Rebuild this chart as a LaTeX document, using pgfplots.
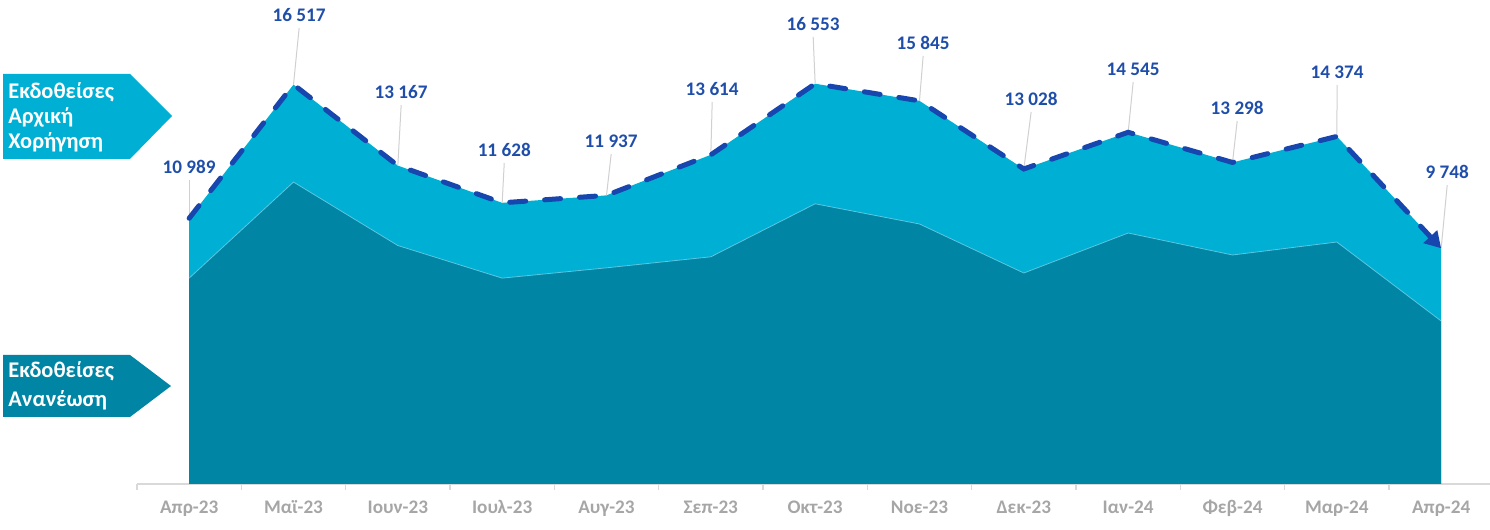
\documentclass[border=0pt]{standalone}
\usepackage{pgfplots}
\pgfplotsset{compat=1.18}
\usepackage{fontspec}
\setmainfont{Carlito}
\usetikzlibrary{arrows.meta}
\definecolor{lightA}{HTML}{00B0D4}
\definecolor{darkA}{HTML}{0085A4}
\definecolor{edgeA}{HTML}{5CC6E0}
\definecolor{labelblue}{HTML}{1F4EAA}
\definecolor{dashblue}{HTML}{1746AF}
\definecolor{tickgray}{HTML}{A6A6A6}
\definecolor{axisgray}{HTML}{D9D9D9}
\definecolor{leadgray}{HTML}{D0D0D0}
\begin{document}
\begin{tikzpicture}
\useasboundingbox (0,0) rectangle (745pt,265pt);
% left labels
\fill[lightA] (1.5pt,228pt) -- (65pt,228pt) -- (86pt,207pt) -- (65pt,185.5pt) -- (1.5pt,185.5pt) -- cycle;
\node[anchor=west, align=left, inner sep=0pt, text=white, font=\bfseries\fontsize{11.2}{12.5}\selectfont] at (4pt,206.5pt) {Εκδοθείσες\\Αρχική\\Χορήγηση};
\fill[darkA] (1.5pt,87.5pt) -- (65pt,87.5pt) -- (85.5pt,72pt) -- (65pt,56.5pt) -- (1.5pt,56.5pt) -- cycle;
\node[anchor=west, align=left, inner sep=0pt, text=white, font=\bfseries\fontsize{11.2}{14.5}\selectfont] at (4pt,72pt) {Εκδοθείσες\\Ανανέωση};
\begin{axis}[
  at={(68.5pt,23pt)}, anchor=south west, scale only axis,
  width=676.6pt, height=241.8pt,
  xmin=-0.5, xmax=12.47, ymin=0, ymax=20000,
  axis y line=none,
  axis x line*=bottom,
  x axis line style={-, draw=axisgray, line width=0.7pt},
  xtick={0,...,12},
  xticklabels={Απρ-23,Μαϊ-23,Ιουν-23,Ιουλ-23,Αυγ-23,Σεπ-23,Οκτ-23,Νοε-23,Δεκ-23,Ιαν-24,Φεβ-24,Μαρ-24,Απρ-24},
  major tick length=0pt,
  minor xtick={-0.5,0.5,...,11.5},
  minor tick length=3pt,
  tick align=outside,
  minor tick style={draw=axisgray, line width=0.7pt},
  xticklabel style={font=\bfseries\fontsize{9.6}{11}\selectfont, text=tickgray, anchor=base, yshift=-15pt},
  clip=false,
]
% total (Αρχική Χορήγηση on top of Ανανέωση)
\addplot[fill=lightA, draw=none] coordinates {
(0,10989) (1,16517) (2,13167) (3,11628) (4,11937) (5,13614) (6,16553)
(7,15845) (8,13028) (9,14545) (10,13298) (11,14374) (12,9748)} \closedcycle;
% renewals
\addplot[fill=darkA, draw=none] coordinates {
(0,8514) (1,12488) (2,9863) (3,8514) (4,8940) (5,9396) (6,11589)
(7,10753) (8,8726) (9,10380) (10,9471) (11,10008) (12,6741)} \closedcycle;
\addplot[draw=edgeA, line width=0.4pt] coordinates {
(0,8514) (1,12488) (2,9863) (3,8514) (4,8940) (5,9396) (6,11589)
(7,10753) (8,8726) (9,10380) (10,9471) (11,10008) (12,6741)};
% leader lines
\draw[leadgray, line width=0.5pt] (axis cs:0.0,12572) -- (axis cs:0,10989);
\draw[leadgray, line width=0.5pt] (axis cs:1.054,18859) -- (axis cs:1,16517);
\draw[leadgray, line width=0.5pt] (axis cs:2.032,15674) -- (axis cs:2,13167);
\draw[leadgray, line width=0.5pt] (axis cs:3.02,13275) -- (axis cs:3,11628);
\draw[leadgray, line width=0.5pt] (axis cs:4.045,13648) -- (axis cs:4,11937);
\draw[leadgray, line width=0.5pt] (axis cs:5.013,15798) -- (axis cs:5,13614);
\draw[leadgray, line width=0.5pt] (axis cs:5.981,18486) -- (axis cs:6,16553);
\draw[leadgray, line width=0.5pt] (axis cs:7.035,17701) -- (axis cs:7,15845);
\draw[leadgray, line width=0.5pt] (axis cs:8.07,15385) -- (axis cs:8,13028);
\draw[leadgray, line width=0.5pt] (axis cs:9.048,16625) -- (axis cs:9,14545);
\draw[leadgray, line width=0.5pt] (axis cs:10.045,15012) -- (axis cs:10,13298);
\draw[leadgray, line width=0.5pt] (axis cs:11.003,16501) -- (axis cs:11,14374);
\draw[leadgray, line width=0.5pt] (axis cs:12.058,12366) -- (axis cs:12,9748);
% dashed trend line
\addplot[draw=dashblue, line width=2.5pt, line cap=round, dash pattern=on 8pt off 9.5pt,
  -{Triangle[length=8pt,width=9pt]}] coordinates {
(0,10989) (1,16517) (2,13167) (3,11628) (4,11937) (5,13614) (6,16553)
(7,15845) (8,13028) (9,14545) (10,13298) (11,14374) (12,9748)};
% value labels
\begin{scope}[every node/.style={text=labelblue, font=\bfseries\fontsize{9.6}{11}\selectfont, anchor=center, inner sep=0pt}]
\node at (axis cs:0.0,13110) {10 989};
\node at (axis cs:1.054,19396) {16 517};
\node at (axis cs:2.032,16212) {13 167};
\node at (axis cs:3.02,13813) {11 628};
\node at (axis cs:4.045,14185) {11 937};
\node at (axis cs:5.013,16336) {13 614};
\node at (axis cs:5.981,19024) {16 553};
\node at (axis cs:7.035,18238) {15 845};
\node at (axis cs:8.07,15922) {13 028};
\node at (axis cs:9.048,17163) {14 545};
\node at (axis cs:10.045,15550) {13 298};
\node at (axis cs:11.003,17039) {14 374};
\node at (axis cs:12.058,12903) {9 748};
\end{scope}
\end{axis}
\end{tikzpicture}
\end{document}
